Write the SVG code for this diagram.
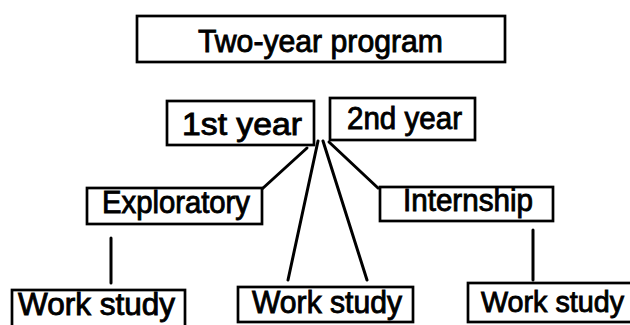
<svg xmlns="http://www.w3.org/2000/svg" width="630" height="325" viewBox="0 0 630 325">
<style>
.box{fill:#fff;stroke:#000;stroke-width:2.7}
.t{font-family:"Liberation Sans",Arial,sans-serif;font-size:31px;fill:#000;stroke:#000;stroke-width:0.9}
.c{stroke:#000;stroke-width:3;fill:none;stroke-linecap:round}
</style>
<rect width="630" height="325" fill="#fff"/>
<g id="connectors">
<line class="c" x1="307" y1="148" x2="262" y2="189"/>
<line class="c" x1="318" y1="141" x2="288" y2="280"/>
<line class="c" x1="323" y1="141" x2="367" y2="280"/>
<line class="c" x1="329" y1="142" x2="378" y2="188"/>
<line class="c" x1="111" y1="238" x2="111" y2="283"/>
<line class="c" x1="533" y1="230" x2="533" y2="280"/>
</g>
<g id="two-year-program">
<rect class="box" x="137" y="16" width="368" height="46"/>
<text class="t" x="198" y="52" textLength="245" lengthAdjust="spacingAndGlyphs">Two-year program</text>
</g>
<g id="first-year">
<rect class="box" x="167" y="101" width="147" height="44"/>
<text class="t" x="182" y="135" textLength="120" lengthAdjust="spacingAndGlyphs">1st year</text>
</g>
<g id="second-year">
<rect class="box" x="330" y="98" width="145" height="42"/>
<text class="t" x="347" y="129" textLength="115" lengthAdjust="spacingAndGlyphs">2nd year</text>
</g>
<g id="exploratory">
<rect class="box" x="87" y="188" width="175" height="36"/>
<text class="t" x="102" y="213" textLength="148" lengthAdjust="spacingAndGlyphs">Exploratory</text>
</g>
<g id="internship">
<rect class="box" x="380" y="187" width="173" height="34"/>
<text class="t" x="403" y="211" textLength="130" lengthAdjust="spacingAndGlyphs">Internship</text>
</g>
<g id="work-study-1">
<rect class="box" x="12" y="290" width="173" height="45"/>
<text class="t" x="18" y="315" textLength="157" lengthAdjust="spacingAndGlyphs">Work study</text>
</g>
<g id="work-study-2">
<rect class="box" x="238" y="287" width="175" height="35"/>
<text class="t" x="252" y="313" textLength="150" lengthAdjust="spacingAndGlyphs">Work study</text>
</g>
<g id="work-study-3">
<rect class="box" x="468" y="283" width="170" height="39"/>
<text class="t" x="481" y="312" style="font-size:29px" textLength="143" lengthAdjust="spacingAndGlyphs">Work study</text>
</g>
</svg>
